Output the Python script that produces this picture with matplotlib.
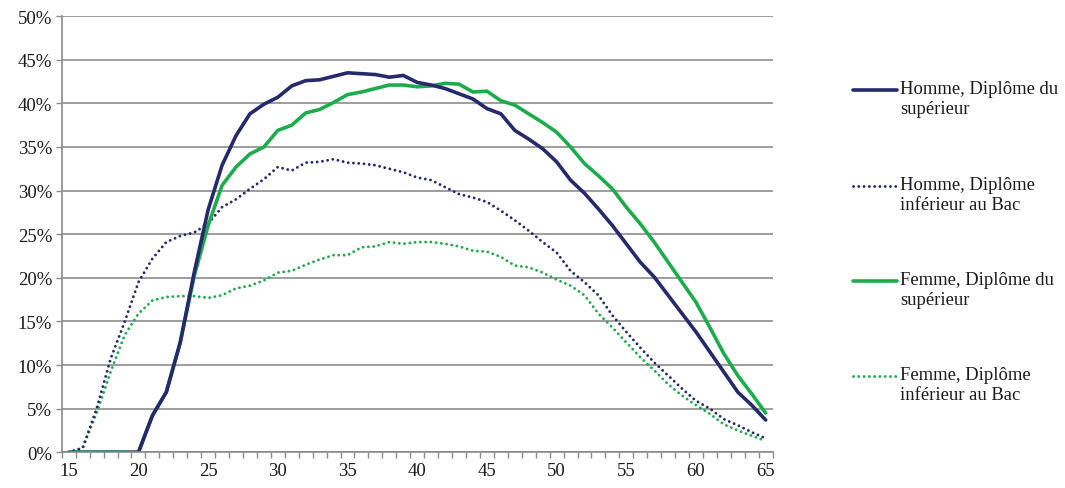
import numpy as np
import matplotlib
matplotlib.use("Agg")
import matplotlib.pyplot as plt
from matplotlib.ticker import FixedLocator, FuncFormatter

plt.rcParams['font.family'] = ['Liberation Serif', 'DejaVu Serif']

# Ages 15..65
ages = np.arange(15, 66)

homme_sup = [0, 0, 0, 0, 0, 0, 4.2, 6.9, 12.6, 20.6, 27.8, 32.9, 36.3, 38.8, 39.9, 40.7,
             42.0, 42.6, 42.7, 43.1, 43.5, 43.4, 43.3, 43.0, 43.2, 42.4, 42.1, 41.7, 41.1, 40.5,
             39.4, 38.8, 36.9, 35.9, 34.8, 33.3, 31.2, 29.7, 27.9, 26.0, 23.9, 21.8, 20.1, 18.0,
             15.9, 13.8, 11.5, 9.2, 6.9, 5.4, 3.7]
homme_bac = [0, 0.5, 5.0, 10.7, 14.9, 19.5, 22.2, 24.1, 24.8, 25.2, 26.2, 28.1, 29.0, 30.2, 31.3,
             32.7, 32.3, 33.2, 33.3, 33.6, 33.2, 33.1, 32.9, 32.5, 32.1, 31.5, 31.2, 30.4, 29.6,
             29.2, 28.7, 27.7, 26.6, 25.4, 24.1, 22.9, 20.8, 19.5, 18.0, 15.7, 13.8, 12.0, 10.3,
             8.8, 7.3, 5.9, 5.0, 3.8, 3.1, 2.3, 1.6]
femme_sup = [0, 0, 0, 0, 0, 0, 4.2, 6.9, 12.6, 20.2, 26.0, 30.6, 32.7, 34.2, 35.0, 36.9,
             37.5, 38.9, 39.3, 40.1, 41.0, 41.3, 41.7, 42.1, 42.1, 41.9, 42.0, 42.3, 42.2, 41.3,
             41.4, 40.3, 39.8, 38.8, 37.8, 36.7, 35.0, 33.1, 31.7, 30.2, 28.1, 26.2, 24.1, 21.8,
             19.5, 17.2, 14.3, 11.3, 8.8, 6.7, 4.5]
femme_bac = [0, 0.5, 4.5, 9.2, 13.4, 15.9, 17.4, 17.8, 17.9, 17.9, 17.7, 18.0, 18.8, 19.1, 19.7,
             20.6, 20.8, 21.5, 22.1, 22.6, 22.6, 23.5, 23.6, 24.1, 23.9, 24.1, 24.1, 23.9, 23.6,
             23.1, 23.0, 22.4, 21.4, 21.2, 20.6, 19.8, 19.1, 18.0, 15.9, 14.3, 12.6, 10.9, 9.4,
             7.8, 6.5, 5.4, 4.4, 3.2, 2.5, 1.9, 1.3]

labels = ["Homme, Diplôme du\nsupérieur", "Homme, Diplôme\ninférieur au Bac",
          "Femme, Diplôme du\nsupérieur", "Femme, Diplôme\ninférieur au Bac"]

NAVY = "#262a6c"
GREEN = "#1dac4b"
GRID = "#8c8c8c"
TXT = "#1a1a1a"

fig = plt.figure(figsize=(10.65, 4.89), dpi=100)
ax = fig.add_axes([0.058, 0.073, 0.6675, 0.892])

dot_style = dict(linestyle=(0, (0.01, 1.8)), linewidth=2.1, dash_capstyle='round')
solid_style = dict(linestyle='-', linewidth=2.6, solid_capstyle='round')

styles = [(homme_sup, NAVY, solid_style), (homme_bac, NAVY, dot_style),
          (femme_sup, GREEN, solid_style), (femme_bac, GREEN, dot_style)]

# dotted first so the solid lines sit on top
for vals, col, st in [styles[3], styles[1], styles[2], styles[0]]:
    ax.plot(ages, vals, color=col, **st)

ax.set_xlim(14.5, 65.5)
ax.set_ylim(0, 50)
ax.set_yticks(np.arange(0, 51, 5))
ax.yaxis.set_major_formatter(FuncFormatter(lambda v, p: f"{int(v)}%"))
ax.set_xticks(np.arange(15, 66, 5))
ax.xaxis.set_minor_locator(FixedLocator(np.arange(14.5, 66, 1)))
ax.tick_params(axis='x', which='major', length=0, pad=7, labelsize=13.5, labelcolor=TXT)
ax.tick_params(axis='x', which='minor', length=4.5, width=1.0, color=GRID, direction='out')
ax.tick_params(axis='y', which='major', length=4, width=1.0, color=GRID, labelsize=13.5,
               pad=3, labelcolor=TXT)

ax.grid(axis='y', color=GRID, linewidth=1.2)
ax.set_axisbelow(True)
for s in ['top', 'right']:
    ax.spines[s].set_visible(False)
for s in ['left', 'bottom']:
    ax.spines[s].set_color(GRID)
    ax.spines[s].set_linewidth(1.2)

# legend drawn by hand so the handle sits on the first text line
lax = fig.add_axes([0, 0, 1, 1])
lax.set_xlim(0, 1065)
lax.set_ylim(489, 0)
lax.axis('off')
leg_y = [91, 187, 282, 377]
for (vals, col, st), lab, yy in zip(styles, labels, leg_y):
    lax.plot([853, 897], [yy, yy], color=col, **st)
    lax.text(900, yy - 10, lab, fontsize=13.4, va='top', ha='left', linespacing=1.2,
             color=TXT)

fig.savefig("out.png", dpi=100)
